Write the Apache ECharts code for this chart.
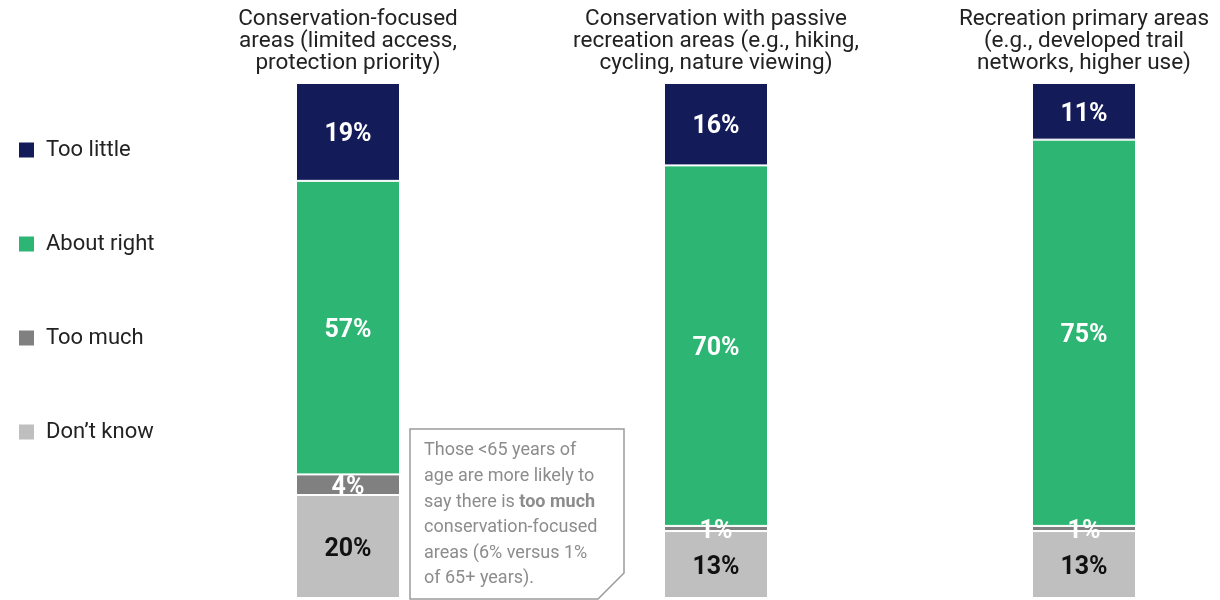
<!DOCTYPE html>
<html>
<head>
<meta charset="utf-8">
<script src="https://cdn.jsdelivr.net/npm/echarts@6/dist/echarts.min.js"></script>
<style>
html,body{margin:0;padding:0;background:#fff;}
#chart{width:1220px;height:600px;}
</style>
</head>
<body>
<div id="chart"></div>
<script>
const categories = [
  'Conservation-focused\nareas (limited access,\nprotection priority)',
  'Conservation with passive\nrecreation areas (e.g., hiking,\ncycling, nature viewing)',
  'Recreation primary areas\n(e.g., developed trail\nnetworks, higher use)'
];
const seriesNames = ['Too little', 'About right', 'Too much', "Don\u2019t know"];
const tooLittle = [19, 16, 11];
const aboutRight = [57, 70, 75];
const tooMuch = [4, 1, 1];
const dontKnow = [20, 13, 13];
const colors = ['#131b59', '#2db573', '#808080', '#bfbfbf'];
const labelColors = ['#ffffff', '#ffffff', '#ffffff', '#111111'];
const calloutLines = [
  'Those <65 years of',
  'age are more likely to',
  'say there is {b|too much}',
  'conservation-focused',
  'areas (6% versus 1%',
  'of 65+ years).'
];

const FONT = 'Roboto, "Noto Sans", sans-serif';
const chart = echarts.init(document.getElementById('chart'));

// stack order: bottom first
const stackData = [
  {name: seriesNames[3], data: dontKnow, idx: 3},
  {name: seriesNames[2], data: tooMuch, idx: 2},
  {name: seriesNames[1], data: aboutRight, idx: 1},
  {name: seriesNames[0], data: tooLittle, idx: 0}
];

const series = stackData.map(s => ({
  name: s.name,
  type: 'bar',
  stack: 'total',
  barWidth: 104,
  data: s.data,
  itemStyle: {color: colors[s.idx], borderColor: '#ffffff', borderWidth: 1},
  label: {
    show: true,
    position: 'inside',
    offset: [0, 3],
    formatter: '{c}%',
    color: labelColors[s.idx],
    fontFamily: FONT,
    fontWeight: 'bold',
    fontSize: 25
  },
  emphasis: {disabled: true}
}));

const legends = seriesNames.map((n, i) => ({
  data: [n],
  orient: 'vertical',
  left: 17,
  top: 139 + i * 94,
  padding: 0,
  itemWidth: 17,
  itemHeight: 17,
  icon: 'rect',
  itemGap: 0,
  textStyle: {fontFamily: FONT, fontSize: 22, color: '#222222', padding: [0, 0, 0, 6]},
  selectedMode: false
}));

chart.setOption({
  animation: false,
  legend: legends,
  grid: {left: 164, width: 1104, top: 83, bottom: 2, containLabel: false, outerBoundsMode: 'none'},
  xAxis: {
    type: 'category',
    position: 'top',
    data: categories,
    axisLine: {show: false},
    axisTick: {show: false},
    axisLabel: {
      interval: 0,
      margin: 9,
      fontFamily: FONT,
      fontSize: 22.5,
      lineHeight: 22,
      color: '#222222',
      align: 'center'
    }
  },
  yAxis: {type: 'value', min: 0, max: 100, show: false},
  series: series,
  graphic: [
    {
      type: 'polygon',
      shape: {points: [[410, 429], [624, 429], [624, 573], [598, 599], [410, 599]]},
      style: {fill: '#ffffff', stroke: '#9a9a9a', lineWidth: 1.5},
      silent: true
    },
    {
      type: 'text',
      left: 424,
      top: 438,
      style: {
        text: calloutLines.join('\n'),
        fontFamily: FONT,
        fontSize: 18,
        lineHeight: 25.6,
        fill: '#8c8c8c',
        rich: {
          b: {fontFamily: FONT, fontSize: 18, fontWeight: 'bold', fill: '#8c8c8c', lineHeight: 25.6}
        }
      },
      silent: true
    }
  ]
});
</script>
</body>
</html>
